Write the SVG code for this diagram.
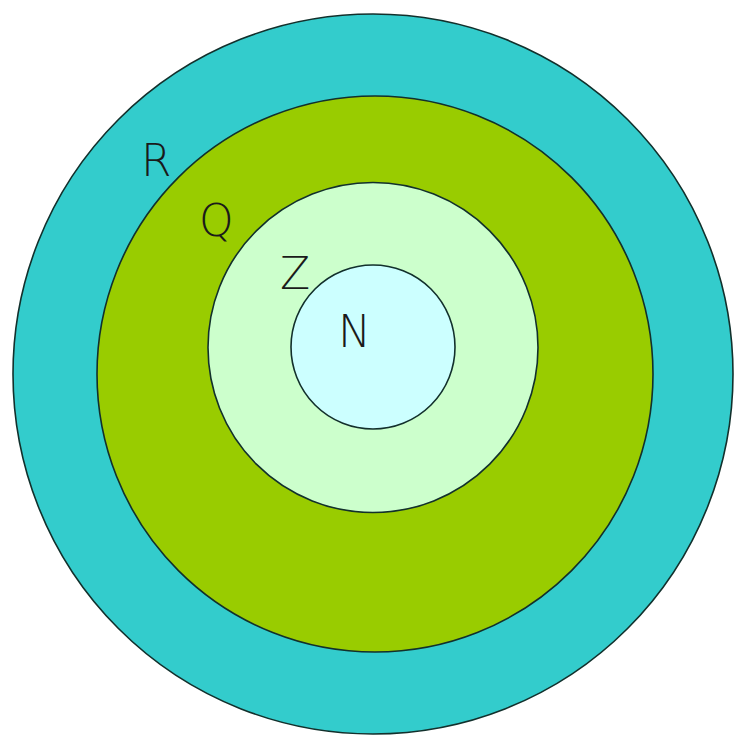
<svg xmlns="http://www.w3.org/2000/svg" width="735" height="737" viewBox="0 0 735 737">
<style>
.ring{stroke:#12302c;stroke-width:1.6}
.lbl{font-family:"DejaVu Sans","Liberation Sans",sans-serif;font-size:44px;fill:#1a1a1a;font-weight:300}
</style>
<rect width="735" height="737" fill="#ffffff"/>
<g id="R"><circle class="ring" cx="373" cy="374" r="360" fill="#33CCCC"/><text class="lbl" x="141" y="176">R</text></g>
<g id="Q"><circle class="ring" cx="375" cy="374" r="278" fill="#99CC00"/><text class="lbl" x="199" y="236">Q</text></g>
<g id="Z"><circle class="ring" cx="373" cy="347.5" r="165" fill="#CCFFCC"/><text class="lbl" x="280" y="289">Z</text></g>
<g id="N"><circle class="ring" cx="373" cy="347" r="82" fill="#CCFFFF"/><text class="lbl" x="338" y="347">N</text></g>
<g id="connectors"></g>
</svg>
